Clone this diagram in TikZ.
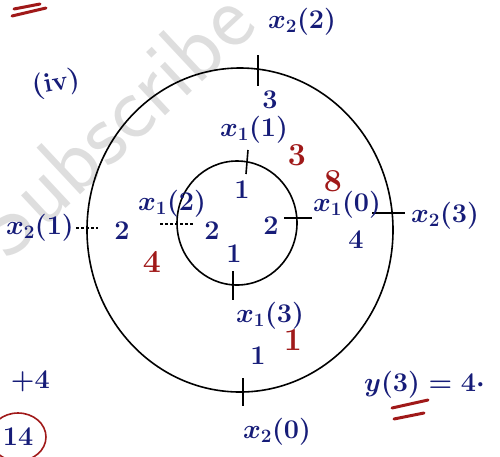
\documentclass[tikz,border=0pt]{standalone}
\usepackage{fix-cm}
\definecolor{ink}{RGB}{22,28,120}
\definecolor{redink}{RGB}{160,25,25}
\definecolor{wm}{RGB}{222,222,222}
\begin{document}
\begin{tikzpicture}[x=1pt,y=-1pt,
  lbl/.style={text=ink,font=\fontsize{27}{30}\selectfont\bfseries\boldmath,inner sep=0pt},
  rlbl/.style={text=redink,font=\fontsize{32}{34}\selectfont\bfseries,inner sep=0pt},
  ring/.style={black,line width=1.6pt},
  tick/.style={black,line width=1.6pt},
  dtick/.style={black,line width=1.2pt,dash pattern=on 3pt off 2pt},
  redmark/.style={redink,line width=3pt,line cap=round}]
\useasboundingbox (0,0) rectangle (500,456);
\clip (0,0) rectangle (500,456);
% watermark
\node[text=wm,font=\fontsize{92}{96}\selectfont\sffamily,rotate=43,inner sep=0pt] (wmark) at (112,122) {Subscribe};
% circles
\draw[ring] (240,230) ellipse [x radius=153, y radius=162];
\draw[ring] (237,223) ellipse [x radius=60, y radius=62];
% tick coordinates
\coordinate (ot1) at (258,55);  \coordinate (ot2) at (258,86);
\coordinate (ob1) at (243,378); \coordinate (ob2) at (243,406);
\coordinate (ol1) at (76,228);  \coordinate (ol2) at (98,228);
\coordinate (or1) at (372,213); \coordinate (or2) at (405,213);
\coordinate (it1) at (248,150); \coordinate (it2) at (246,174);
\coordinate (ir1) at (284,218); \coordinate (ir2) at (312,218);
\coordinate (ib1) at (233,271); \coordinate (ib2) at (233,300);
\coordinate (il1) at (160,224); \coordinate (il2) at (194,224);
\draw[tick] (ot1) -- (ot2);
\draw[tick] (ob1) -- (ob2);
\draw[dtick] (ol1) -- (ol2);
\draw[tick] (or1) -- (or2);
\draw[tick] (it1) -- (it2);
\draw[tick] (ir1) -- (ir2);
\draw[tick] (ib1) -- (ib2);
\draw[dtick] (il1) -- (il2);
% blue labels
\node[lbl] (x22) at (302,22) {$x_2(2)$};
\node[lbl] (b3) at (270,100) {3};
\node[lbl] (x11) at (254,130) {$x_1(1)$};
\node[lbl] (x10) at (347,205) {$x_1(0)$};
\node[lbl] (b4r) at (356,240) {4};
\node[lbl] (x23) at (445,216) {$x_2(3)$};
\node[lbl] (b2ir) at (271,226) {2};
\node[lbl] (b1it) at (242,190) {1};
\node[lbl] (b2il) at (212,231) {2};
\node[lbl] (b1ib) at (234,254) {1};
\node[lbl] (x12) at (172,204) {$x_1(2)$};
\node[lbl] (b2l) at (122,231) {2};
\node[lbl,anchor=east] (x21) at (74,228) {$x_2(1)$};
\node[lbl] (x13) at (270,316) {$x_1(3)$};
\node[lbl] (b1b) at (258,356) {1};
\node[lbl] (x20) at (277,432) {$x_2(0)$};
\node[lbl,anchor=west] (y3) at (364,385) {$y(3)=4\cdot$};
\node[lbl,anchor=east] (p4) at (50,381) {$+4$};
\node[lbl] (n14) at (18,437) {14};
\node[lbl,rotate=10] (iv) at (56,84) {(iv)};
% red labels
\node[rlbl] (r3) at (297,155) {3};
\node[rlbl] (r8) at (333,181) {8};
\node[rlbl] (r4) at (152,262) {4};
\node[rlbl] (r1) at (293,340) {1};
\draw[redink,line width=1.6pt] (n14) ellipse [x radius=28, y radius=24];
% red underlines
\draw[redmark] (12,16) -- (46,8);
\draw[redmark] (14,9) -- (40,4);
\draw[redmark] (392,408) -- (428,400);
\draw[redmark] (394,419) -- (424,413);
\end{tikzpicture}
\end{document}
